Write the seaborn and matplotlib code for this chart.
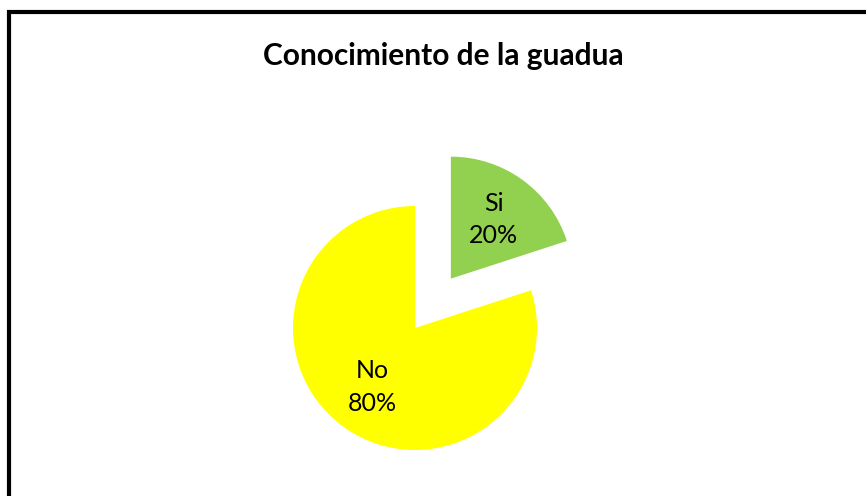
import matplotlib
matplotlib.use("Agg")
import matplotlib.pyplot as plt
import seaborn as sns
from matplotlib.patches import Rectangle

# data
categories = ["Si", "No"]
percentages = [20, 80]
colors = ["#92D050", "#FFFF00"]
title = "Conocimiento de la guadua"

sns.set_theme(style="white")
plt.rcParams['font.family'] = ['Lato', 'DejaVu Sans']

W, H = 866, 496
fig = plt.figure(figsize=(W / 100, H / 100), dpi=100)
fig.patch.set_facecolor("white")

# pie centre and radius in pixels
cx, cy, r = 415, 328, 122
ax = fig.add_axes([0, 0, 1, 1])

labels = [f"{c}\n{p}%" for c, p in zip(categories, percentages)]
wedges, texts = ax.pie(percentages, labels=labels, colors=colors,
                       startangle=90, counterclock=False,
                       explode=[0.5, 0], labeldistance=0.6,
                       wedgeprops=dict(linewidth=0),
                       textprops=dict(fontsize=18, color="black",
                                      ha="center", va="center",
                                      linespacing=1.5))
ax.set_aspect("auto")
ax.set_xlim(-cx / r, (W - cx) / r)
ax.set_ylim(-(H - cy) / r, cy / r)
ax.axis("off")

fig.text(443 / W, 1 - 56 / H, title, ha="center", va="center",
         fontsize=21.5, fontweight="bold", color="black")

# chart border (runs off the right and bottom of the image)
fig.patches.append(Rectangle((9 / W, -0.1), 1.2, 1.1 - 12 / H,
                             transform=fig.transFigure, fill=False,
                             edgecolor="black", linewidth=3))

fig.savefig("out.png", dpi=100)
